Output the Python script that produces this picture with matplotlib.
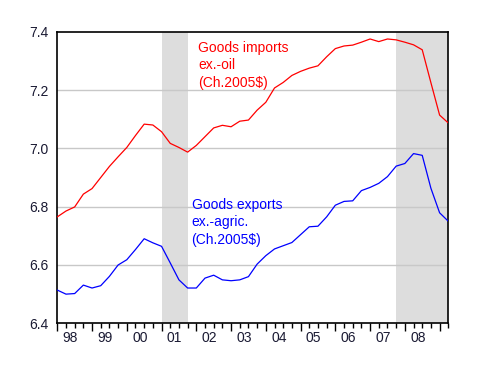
import matplotlib
matplotlib.use("Agg")
import matplotlib.pyplot as plt
import numpy as np

# Quarterly observations, 1998Q1 .. 2009Q2
start_year = 1998
imports_ex_oil = [6.765, 6.785, 6.799, 6.843, 6.862, 6.900, 6.938, 6.971,
                  7.003, 7.044, 7.083, 7.080, 7.057, 7.017, 7.003, 6.987,
                  7.010, 7.040, 7.070, 7.079, 7.074, 7.093, 7.097, 7.131,
                  7.158, 7.207, 7.226, 7.250, 7.264, 7.275, 7.283, 7.314,
                  7.342, 7.351, 7.354, 7.364, 7.375, 7.366, 7.375, 7.372,
                  7.364, 7.355, 7.338, 7.225, 7.114, 7.087]
exports_ex_agric = [6.514, 6.500, 6.502, 6.531, 6.521, 6.529, 6.561, 6.600,
                    6.618, 6.653, 6.690, 6.676, 6.664, 6.607, 6.549, 6.521,
                    6.521, 6.555, 6.565, 6.549, 6.546, 6.549, 6.560, 6.603,
                    6.632, 6.655, 6.666, 6.677, 6.704, 6.731, 6.733, 6.765,
                    6.805, 6.818, 6.820, 6.855, 6.866, 6.880, 6.903, 6.939,
                    6.948, 6.982, 6.976, 6.863, 6.779, 6.750]
year_labels = ["98", "99", "00", "01", "02", "03", "04", "05", "06", "07", "08"]
y_ticks = [6.4, 6.6, 6.8, 7.0, 7.2, 7.4]
# recessions as (start quarter index, end quarter index)
recessions = [(12, 15), (39, 45)]

imports_label = "Goods imports\nex.-oil\n(Ch.2005$)"
exports_label = "Goods exports\nex.-agric.\n(Ch.2005$)"

plt.rcParams['font.family'] = ['Liberation Sans', 'DejaVu Sans']

fig = plt.figure(figsize=(4.81, 3.72), dpi=100)
ax = fig.add_axes([0.1191, 0.1309, 0.932 - 0.1191, 0.9148 - 0.1309])

n = len(imports_ex_oil)
x = np.arange(n)

for a, b in recessions:
    ax.axvspan(a, b, color="#DDDDDD", lw=0, zorder=0)

for v in y_ticks[1:-1]:
    ax.axhline(v, color="#C8C8C8", lw=1.0, zorder=1)

ax.plot(x, imports_ex_oil, color="#FF0000", lw=0.9, zorder=3)
ax.plot(x, exports_ex_agric, color="#0000FF", lw=0.9, zorder=3)

ax.set_xlim(0, n - 1)
ax.set_ylim(6.4, 7.4)

ax.set_yticks(y_ticks)
ax.set_yticklabels([f"{v:.1f}" for v in y_ticks])
ax.tick_params(axis="y", length=0, pad=6.5, labelsize=10, labelcolor="#1a1a33")

ax.set_xticks(np.arange(0, n, 4))
ax.set_xticklabels([])
ax.set_xticks(np.arange(0, n), minor=True)
ax.tick_params(axis="x", which="major", length=6, width=1.0, direction="out")
ax.tick_params(axis="x", which="minor", length=3.5, width=1.0, direction="out")

for k, lab in enumerate(year_labels):
    ax.text(4 * k + 1.5, -0.05, lab, transform=ax.get_xaxis_transform(),
            ha="center", va="center", fontsize=10, color="#1a1a33")

for s in ax.spines.values():
    s.set_color("black")
    s.set_linewidth(1.2)

ax.text(16.2, 7.368, imports_label, color="#FF0000", fontsize=10,
        ha="left", va="top", linespacing=1.3)
ax.text(15.45, 6.83, exports_label, color="#0000FF", fontsize=10,
        ha="left", va="top", linespacing=1.3)

fig.savefig("out.png", dpi=100)
